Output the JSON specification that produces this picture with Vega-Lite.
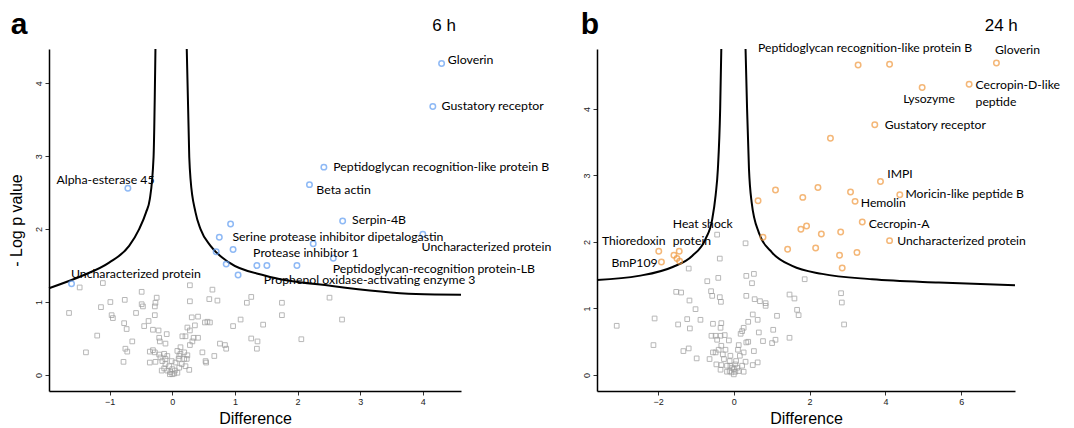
{
"$schema": "https://vega.github.io/schema/vega-lite/v6.json",
"background": "white",
"padding": {"left": 8, "top": 9, "right": 5, "bottom": 2},
"bounds": "flush",
"spacing": 136,
"config": {
  "view": {"stroke": null},
  "axis": {"grid": false, "domainColor": "#000", "domainWidth": 1.5, "tickColor": "#333", "tickSize": 4, "tickWidth": 1, "labelFont": "Liberation Sans", "labelFontSize": 9, "labelColor": "#222", "titleFont": "Liberation Sans", "titleFontSize": 16, "titleFontWeight": "normal", "titleColor": "#000"},
  "axisY": {"labelAngle": -90, "labelAlign": "center", "labelBaseline": "bottom", "labelPadding": 2},
  "text": {"font": "Lato", "fontSize": 12.5, "align": "left", "baseline": "middle", "color": "#000"}
},
"datasets": {
  "hdrA": [
    {"t": "a", "kind": "letter", "d": -2.58, "v": 4.68},
    {"t": "6 h", "kind": "time", "d": 4.15, "v": 4.71}
  ],
  "hdrB": [
    {"t": "b", "kind": "letter", "d": -4.04, "v": 5.13},
    {"t": "24 h", "kind": "time", "d": 6.62, "v": 5.17}
  ],
  "ptsA": [
    {"d": 4.30, "v": 4.27, "sig": "yes"},
    {"d": 4.16, "v": 3.68, "sig": "yes"},
    {"d": 2.42, "v": 2.85, "sig": "yes"},
    {"d": 2.19, "v": 2.61, "sig": "yes"},
    {"d": -0.71, "v": 2.56, "sig": "yes"},
    {"d": 2.72, "v": 2.11, "sig": "yes"},
    {"d": 0.93, "v": 2.07, "sig": "yes"},
    {"d": 0.75, "v": 1.89, "sig": "yes"},
    {"d": 2.25, "v": 1.80, "sig": "yes"},
    {"d": 4.00, "v": 1.93, "sig": "yes"},
    {"d": 0.70, "v": 1.69, "sig": "yes"},
    {"d": 0.97, "v": 1.72, "sig": "yes"},
    {"d": 2.57, "v": 1.60, "sig": "yes"},
    {"d": 0.86, "v": 1.52, "sig": "yes"},
    {"d": 1.35, "v": 1.50, "sig": "yes"},
    {"d": 1.51, "v": 1.50, "sig": "yes"},
    {"d": 1.99, "v": 1.50, "sig": "yes"},
    {"d": 1.05, "v": 1.37, "sig": "yes"},
    {"d": -1.61, "v": 1.25, "sig": "yes"},
    {"d": -1.48, "v": 1.20, "sig": "no"},
    {"d": -1.11, "v": 1.26, "sig": "no"},
    {"d": 0.28, "v": 1.23, "sig": "no"},
    {"d": 0.64, "v": 1.17, "sig": "no"},
    {"d": -0.49, "v": 1.14, "sig": "no"},
    {"d": -0.25, "v": 1.06, "sig": "no"},
    {"d": -0.76, "v": 1.03, "sig": "no"},
    {"d": -0.99, "v": 1.00, "sig": "no"},
    {"d": -0.49, "v": 0.97, "sig": "no"},
    {"d": -0.27, "v": 0.99, "sig": "no"},
    {"d": -0.47, "v": 0.94, "sig": "no"},
    {"d": -0.28, "v": 0.94, "sig": "no"},
    {"d": -1.14, "v": 0.93, "sig": "no"},
    {"d": 0.28, "v": 1.01, "sig": "no"},
    {"d": 0.59, "v": 1.04, "sig": "no"},
    {"d": 0.72, "v": 1.02, "sig": "no"},
    {"d": 1.26, "v": 1.07, "sig": "no"},
    {"d": 1.19, "v": 0.99, "sig": "no"},
    {"d": 1.75, "v": 0.99, "sig": "no"},
    {"d": 2.51, "v": 1.06, "sig": "no"},
    {"d": -1.65, "v": 0.85, "sig": "no"},
    {"d": -0.97, "v": 0.82, "sig": "no"},
    {"d": -0.95, "v": 0.78, "sig": "no"},
    {"d": -0.58, "v": 0.85, "sig": "no"},
    {"d": -0.28, "v": 0.82, "sig": "no"},
    {"d": -0.38, "v": 0.74, "sig": "no"},
    {"d": -0.77, "v": 0.71, "sig": "no"},
    {"d": -0.73, "v": 0.63, "sig": "no"},
    {"d": -0.45, "v": 0.67, "sig": "no"},
    {"d": 0.31, "v": 0.79, "sig": "no"},
    {"d": 0.41, "v": 0.80, "sig": "no"},
    {"d": 0.36, "v": 0.68, "sig": "no"},
    {"d": 0.52, "v": 0.72, "sig": "no"},
    {"d": 0.56, "v": 0.73, "sig": "no"},
    {"d": 0.60, "v": 0.72, "sig": "no"},
    {"d": 1.09, "v": 0.76, "sig": "no"},
    {"d": 0.97, "v": 0.67, "sig": "no"},
    {"d": 1.45, "v": 0.69, "sig": "no"},
    {"d": 1.75, "v": 0.82, "sig": "no"},
    {"d": 2.71, "v": 0.76, "sig": "no"},
    {"d": -1.20, "v": 0.54, "sig": "no"},
    {"d": -0.31, "v": 0.62, "sig": "no"},
    {"d": -0.22, "v": 0.61, "sig": "no"},
    {"d": -0.09, "v": 0.56, "sig": "no"},
    {"d": -0.21, "v": 0.51, "sig": "no"},
    {"d": -0.20, "v": 0.46, "sig": "no"},
    {"d": -0.64, "v": 0.46, "sig": "no"},
    {"d": -0.11, "v": 0.43, "sig": "no"},
    {"d": 0.24, "v": 0.65, "sig": "no"},
    {"d": 0.28, "v": 0.61, "sig": "no"},
    {"d": 0.16, "v": 0.53, "sig": "no"},
    {"d": 0.21, "v": 0.53, "sig": "no"},
    {"d": 0.34, "v": 0.51, "sig": "no"},
    {"d": 0.41, "v": 0.51, "sig": "no"},
    {"d": 0.32, "v": 0.46, "sig": "no"},
    {"d": 0.28, "v": 0.41, "sig": "no"},
    {"d": 1.26, "v": 0.50, "sig": "no"},
    {"d": 1.36, "v": 0.46, "sig": "no"},
    {"d": 1.35, "v": 0.36, "sig": "no"},
    {"d": 0.76, "v": 0.43, "sig": "no"},
    {"d": 0.84, "v": 0.41, "sig": "no"},
    {"d": 0.86, "v": 0.36, "sig": "no"},
    {"d": 0.48, "v": 0.31, "sig": "no"},
    {"d": 0.67, "v": 0.26, "sig": "no"},
    {"d": 0.53, "v": 0.19, "sig": "no"},
    {"d": 0.54, "v": 0.17, "sig": "no"},
    {"d": 2.06, "v": 0.49, "sig": "no"},
    {"d": -1.38, "v": 0.31, "sig": "no"},
    {"d": -0.75, "v": 0.36, "sig": "no"},
    {"d": -0.72, "v": 0.32, "sig": "no"},
    {"d": -0.78, "v": 0.18, "sig": "no"},
    {"d": -0.36, "v": 0.32, "sig": "no"},
    {"d": -0.31, "v": 0.34, "sig": "no"},
    {"d": -0.28, "v": 0.31, "sig": "no"},
    {"d": -0.21, "v": 0.28, "sig": "no"},
    {"d": -0.36, "v": 0.17, "sig": "no"},
    {"d": -0.27, "v": 0.18, "sig": "no"},
    {"d": -0.19, "v": 0.24, "sig": "no"},
    {"d": -0.16, "v": 0.19, "sig": "no"},
    {"d": -0.11, "v": 0.15, "sig": "no"},
    {"d": -0.05, "v": 0.12, "sig": "no"},
    {"d": 0.00, "v": 0.08, "sig": "no"},
    {"d": -0.03, "v": 0.04, "sig": "no"},
    {"d": 0.03, "v": 0.02, "sig": "no"},
    {"d": 0.08, "v": 0.03, "sig": "no"},
    {"d": -0.08, "v": 0.06, "sig": "no"},
    {"d": -0.13, "v": 0.09, "sig": "no"},
    {"d": 0.11, "v": 0.10, "sig": "no"},
    {"d": 0.15, "v": 0.15, "sig": "no"},
    {"d": 0.05, "v": 0.17, "sig": "no"},
    {"d": 0.10, "v": 0.22, "sig": "no"},
    {"d": 0.19, "v": 0.22, "sig": "no"},
    {"d": 0.23, "v": 0.22, "sig": "no"},
    {"d": 0.13, "v": 0.29, "sig": "no"},
    {"d": 0.08, "v": 0.33, "sig": "no"},
    {"d": 0.11, "v": 0.26, "sig": "no"},
    {"d": 0.27, "v": 0.07, "sig": "no"},
    {"d": 0.21, "v": 0.12, "sig": "no"},
    {"d": 0.00, "v": 0.01, "sig": "no"},
    {"d": 0.04, "v": 0.06, "sig": "no"},
    {"d": -0.04, "v": 0.01, "sig": "no"},
    {"d": -0.17, "v": 0.06, "sig": "no"},
    {"d": -0.11, "v": 0.22, "sig": "no"},
    {"d": -0.01, "v": 0.19, "sig": "no"},
    {"d": -0.13, "v": 0.29, "sig": "no"},
    {"d": -0.08, "v": 0.26, "sig": "no"},
    {"d": 0.19, "v": 0.31, "sig": "no"},
    {"d": 0.24, "v": 0.27, "sig": "no"},
    {"d": 0.13, "v": 0.38, "sig": "no"}
  ],
  "ptsB": [
    {"d": 3.28, "v": 4.66, "sig": "yes"},
    {"d": 4.11, "v": 4.67, "sig": "yes"},
    {"d": 6.93, "v": 4.69, "sig": "yes"},
    {"d": 6.21, "v": 4.37, "sig": "yes"},
    {"d": 4.97, "v": 4.32, "sig": "yes"},
    {"d": 3.72, "v": 3.76, "sig": "yes"},
    {"d": 2.55, "v": 3.56, "sig": "yes"},
    {"d": 3.87, "v": 2.91, "sig": "yes"},
    {"d": 4.38, "v": 2.71, "sig": "yes"},
    {"d": 3.08, "v": 2.75, "sig": "yes"},
    {"d": 3.20, "v": 2.61, "sig": "yes"},
    {"d": 2.22, "v": 2.82, "sig": "yes"},
    {"d": 1.10, "v": 2.78, "sig": "yes"},
    {"d": 1.82, "v": 2.67, "sig": "yes"},
    {"d": 0.64, "v": 2.62, "sig": "yes"},
    {"d": 3.39, "v": 2.30, "sig": "yes"},
    {"d": 4.11, "v": 2.02, "sig": "yes"},
    {"d": 1.77, "v": 2.19, "sig": "yes"},
    {"d": 1.92, "v": 2.24, "sig": "yes"},
    {"d": 2.31, "v": 2.12, "sig": "yes"},
    {"d": 2.82, "v": 2.15, "sig": "yes"},
    {"d": 0.77, "v": 2.07, "sig": "yes"},
    {"d": 1.42, "v": 1.89, "sig": "yes"},
    {"d": 2.16, "v": 1.91, "sig": "yes"},
    {"d": 2.79, "v": 1.80, "sig": "yes"},
    {"d": 3.25, "v": 1.84, "sig": "yes"},
    {"d": 2.86, "v": 1.61, "sig": "yes"},
    {"d": -1.98, "v": 1.86, "sig": "yes"},
    {"d": -1.91, "v": 1.70, "sig": "yes"},
    {"d": -1.58, "v": 1.80, "sig": "yes"},
    {"d": -1.44, "v": 1.86, "sig": "yes"},
    {"d": -1.50, "v": 1.75, "sig": "yes"},
    {"d": -1.43, "v": 1.71, "sig": "yes"},
    {"d": -0.44, "v": 2.11, "sig": "no"},
    {"d": 0.31, "v": 1.98, "sig": "no"},
    {"d": -0.37, "v": 1.75, "sig": "no"},
    {"d": -1.19, "v": 1.60, "sig": "no"},
    {"d": -0.41, "v": 1.46, "sig": "no"},
    {"d": 0.33, "v": 1.49, "sig": "no"},
    {"d": 0.53, "v": 1.52, "sig": "no"},
    {"d": 0.48, "v": 1.38, "sig": "no"},
    {"d": -0.70, "v": 1.41, "sig": "no"},
    {"d": 1.87, "v": 1.44, "sig": "no"},
    {"d": -1.52, "v": 1.25, "sig": "no"},
    {"d": -1.39, "v": 1.24, "sig": "no"},
    {"d": -0.60, "v": 1.26, "sig": "no"},
    {"d": -0.57, "v": 1.19, "sig": "no"},
    {"d": -0.37, "v": 1.17, "sig": "no"},
    {"d": -0.34, "v": 1.10, "sig": "no"},
    {"d": -1.17, "v": 1.12, "sig": "no"},
    {"d": 0.33, "v": 1.19, "sig": "no"},
    {"d": 0.55, "v": 1.14, "sig": "no"},
    {"d": 0.69, "v": 1.11, "sig": "no"},
    {"d": 0.84, "v": 1.08, "sig": "no"},
    {"d": 0.84, "v": 1.04, "sig": "no"},
    {"d": 1.47, "v": 1.21, "sig": "no"},
    {"d": 1.60, "v": 1.15, "sig": "no"},
    {"d": 2.83, "v": 1.23, "sig": "no"},
    {"d": 2.85, "v": 1.09, "sig": "no"},
    {"d": -1.01, "v": 0.99, "sig": "no"},
    {"d": 1.67, "v": 0.98, "sig": "no"},
    {"d": 1.71, "v": 0.90, "sig": "no"},
    {"d": 1.14, "v": 0.89, "sig": "no"},
    {"d": 0.50, "v": 0.91, "sig": "no"},
    {"d": -2.09, "v": 0.85, "sig": "no"},
    {"d": -1.23, "v": 0.84, "sig": "no"},
    {"d": -0.88, "v": 0.83, "sig": "no"},
    {"d": -3.09, "v": 0.74, "sig": "no"},
    {"d": -1.47, "v": 0.76, "sig": "no"},
    {"d": -1.16, "v": 0.70, "sig": "no"},
    {"d": -0.55, "v": 0.77, "sig": "no"},
    {"d": -0.33, "v": 0.78, "sig": "no"},
    {"d": -0.35, "v": 0.71, "sig": "no"},
    {"d": 0.38, "v": 0.80, "sig": "no"},
    {"d": 0.63, "v": 0.83, "sig": "no"},
    {"d": 0.26, "v": 0.71, "sig": "no"},
    {"d": 0.22, "v": 0.66, "sig": "no"},
    {"d": 0.18, "v": 0.62, "sig": "no"},
    {"d": 0.66, "v": 0.64, "sig": "no"},
    {"d": 1.04, "v": 0.68, "sig": "no"},
    {"d": 2.91, "v": 0.76, "sig": "no"},
    {"d": 1.47, "v": 0.56, "sig": "no"},
    {"d": 1.10, "v": 0.53, "sig": "no"},
    {"d": 1.01, "v": 0.48, "sig": "no"},
    {"d": 0.77, "v": 0.51, "sig": "no"},
    {"d": 0.38, "v": 0.50, "sig": "no"},
    {"d": 0.33, "v": 0.49, "sig": "no"},
    {"d": -2.12, "v": 0.45, "sig": "no"},
    {"d": -1.19, "v": 0.40, "sig": "no"},
    {"d": -1.33, "v": 0.36, "sig": "no"},
    {"d": -0.98, "v": 0.25, "sig": "no"},
    {"d": -0.64, "v": 0.24, "sig": "no"},
    {"d": -0.55, "v": 0.34, "sig": "no"},
    {"d": -0.59, "v": 0.59, "sig": "no"},
    {"d": -0.48, "v": 0.59, "sig": "no"},
    {"d": -0.35, "v": 0.59, "sig": "no"},
    {"d": -0.24, "v": 0.60, "sig": "no"},
    {"d": -0.13, "v": 0.52, "sig": "no"},
    {"d": -0.44, "v": 0.53, "sig": "no"},
    {"d": -0.33, "v": 0.44, "sig": "no"},
    {"d": -0.22, "v": 0.38, "sig": "no"},
    {"d": -0.29, "v": 0.31, "sig": "no"},
    {"d": -0.46, "v": 0.16, "sig": "no"},
    {"d": -0.35, "v": 0.08, "sig": "no"},
    {"d": -0.33, "v": 0.15, "sig": "no"},
    {"d": -0.18, "v": 0.14, "sig": "no"},
    {"d": -0.11, "v": 0.21, "sig": "no"},
    {"d": -0.09, "v": 0.29, "sig": "no"},
    {"d": 0.13, "v": 0.45, "sig": "no"},
    {"d": 0.11, "v": 0.38, "sig": "no"},
    {"d": 0.26, "v": 0.34, "sig": "no"},
    {"d": 0.16, "v": 0.29, "sig": "no"},
    {"d": 0.31, "v": 0.20, "sig": "no"},
    {"d": 0.22, "v": 0.14, "sig": "no"},
    {"d": 0.53, "v": 0.36, "sig": "no"},
    {"d": 0.63, "v": 0.19, "sig": "no"},
    {"d": 0.50, "v": 0.15, "sig": "no"},
    {"d": 0.26, "v": 0.05, "sig": "no"},
    {"d": -0.09, "v": 0.14, "sig": "no"},
    {"d": -0.04, "v": 0.11, "sig": "no"},
    {"d": 0.00, "v": 0.09, "sig": "no"},
    {"d": 0.04, "v": 0.05, "sig": "no"},
    {"d": -0.06, "v": 0.04, "sig": "no"},
    {"d": 0.00, "v": 0.01, "sig": "no"},
    {"d": 0.09, "v": 0.11, "sig": "no"},
    {"d": 0.06, "v": 0.21, "sig": "no"},
    {"d": -0.11, "v": 0.06, "sig": "no"},
    {"d": -0.18, "v": 0.05, "sig": "no"},
    {"d": 0.13, "v": 0.06, "sig": "no"},
    {"d": 0.04, "v": 0.16, "sig": "no"},
    {"d": -0.26, "v": 0.24, "sig": "no"},
    {"d": -0.40, "v": 0.38, "sig": "no"},
    {"d": -0.48, "v": 0.34, "sig": "no"}
  ],
  "curveA": [
    {"branch": "L", "d": -1.97, "v": 1.19},
    {"branch": "L", "d": -1.44, "v": 1.36},
    {"branch": "L", "d": -1.01, "v": 1.54},
    {"branch": "L", "d": -0.69, "v": 1.77},
    {"branch": "L", "d": -0.53, "v": 2.00},
    {"branch": "L", "d": -0.42, "v": 2.23},
    {"branch": "L", "d": -0.36, "v": 2.41},
    {"branch": "L", "d": -0.30, "v": 2.99},
    {"branch": "L", "d": -0.27, "v": 4.47},
    {"branch": "R", "d": 0.23, "v": 4.47},
    {"branch": "R", "d": 0.27, "v": 2.99},
    {"branch": "R", "d": 0.29, "v": 2.69},
    {"branch": "R", "d": 0.37, "v": 2.23},
    {"branch": "R", "d": 0.45, "v": 2.00},
    {"branch": "R", "d": 0.61, "v": 1.77},
    {"branch": "R", "d": 0.91, "v": 1.54},
    {"branch": "R", "d": 1.49, "v": 1.36},
    {"branch": "R", "d": 2.55, "v": 1.22},
    {"branch": "R", "d": 3.89, "v": 1.11},
    {"branch": "R", "d": 4.61, "v": 1.10}
  ],
  "curveB": [
    {"branch": "L", "d": -3.61, "v": 1.43},
    {"branch": "L", "d": -2.51, "v": 1.49},
    {"branch": "L", "d": -1.63, "v": 1.62},
    {"branch": "L", "d": -1.10, "v": 1.79},
    {"branch": "L", "d": -0.75, "v": 2.04},
    {"branch": "L", "d": -0.57, "v": 2.34},
    {"branch": "L", "d": -0.48, "v": 2.70},
    {"branch": "L", "d": -0.42, "v": 3.10},
    {"branch": "L", "d": -0.36, "v": 4.00},
    {"branch": "L", "d": -0.33, "v": 4.90},
    {"branch": "R", "d": 0.31, "v": 4.90},
    {"branch": "R", "d": 0.35, "v": 4.00},
    {"branch": "R", "d": 0.40, "v": 3.10},
    {"branch": "R", "d": 0.47, "v": 2.60},
    {"branch": "R", "d": 0.66, "v": 2.14},
    {"branch": "R", "d": 1.01, "v": 1.84},
    {"branch": "R", "d": 1.54, "v": 1.64},
    {"branch": "R", "d": 2.33, "v": 1.52},
    {"branch": "R", "d": 3.65, "v": 1.44},
    {"branch": "R", "d": 5.41, "v": 1.39},
    {"branch": "R", "d": 7.42, "v": 1.35}
  ],
  "labA": [
    {"name": "Gloverin", "d": 4.40, "v": 4.32},
    {"name": "Gustatory receptor", "d": 4.30, "v": 3.69},
    {"name": "Peptidoglycan recognition-like protein B", "d": 2.57, "v": 2.85},
    {"name": "Beta actin", "d": 2.30, "v": 2.54},
    {"name": "Alpha-esterase 45", "d": -1.85, "v": 2.68},
    {"name": "Serpin-4B", "d": 2.87, "v": 2.12},
    {"name": "Serine protease inhibitor dipetalogastin", "d": 0.96, "v": 1.89},
    {"name": "Uncharacterized protein", "d": 3.98, "v": 1.75},
    {"name": "Protease inhibitor 1", "d": 1.29, "v": 1.67},
    {"name": "Peptidoglycan-recognition protein-LB", "d": 2.56, "v": 1.45},
    {"name": "Prophenol oxidase-activating enzyme 3", "d": 1.46, "v": 1.30},
    {"name": "Uncharacterized protein", "d": -1.62, "v": 1.38}
  ],
  "labB": [
    {"name": "Peptidoglycan recognition-like protein B", "d": 0.64, "v": 4.92},
    {"name": "Gloverin", "d": 6.89, "v": 4.89},
    {"name": "Cecropin-D-like", "d": 6.38, "v": 4.36},
    {"name": "peptide", "d": 6.38, "v": 4.11},
    {"name": "Lysozyme", "d": 4.47, "v": 4.15},
    {"name": "Gustatory receptor", "d": 3.98, "v": 3.76},
    {"name": "IMPI", "d": 4.05, "v": 3.02},
    {"name": "Moricin-like peptide B", "d": 4.53, "v": 2.72},
    {"name": "Hemolin", "d": 3.35, "v": 2.59},
    {"name": "Cecropin-A", "d": 3.56, "v": 2.27},
    {"name": "Uncharacterized protein", "d": 4.31, "v": 2.01},
    {"name": "Heat shock", "d": -1.61, "v": 2.27},
    {"name": "protein", "d": -1.61, "v": 2.01},
    {"name": "Thioredoxin", "d": -3.48, "v": 2.01},
    {"name": "BmP109", "d": -3.23, "v": 1.68}
  ]
},
"hconcat": [
  {
    "width": 412, "height": 342,
    "encoding": {
      "x": {"field": "d", "type": "quantitative", "scale": {"domain": [-1.97, 4.61], "nice": false, "zero": false}, "axis": {"title": "Difference", "values": [-1, 0, 1, 2, 3, 4], "titlePadding": 4}},
      "y": {"field": "v", "type": "quantitative", "scale": {"domain": [-0.22, 4.47], "nice": false, "zero": false}, "axis": {"title": "- Log p value", "values": [0, 1, 2, 3, 4], "titlePadding": 10}}
    },
    "layer": [
      {"data": {"name": "curveA"}, "mark": {"type": "line", "color": "#000", "strokeWidth": 2, "interpolate": "monotone"}, "encoding": {"detail": {"field": "branch"}}},
      {"data": {"name": "ptsA"}, "transform": [{"filter": "datum.sig == 'no'"}], "mark": {"type": "point", "shape": "square", "size": 22, "stroke": "#9a9a9a", "strokeWidth": 1, "filled": false}},
      {"data": {"name": "ptsA"}, "transform": [{"filter": "datum.sig == 'yes'"}], "mark": {"type": "point", "shape": "circle", "size": 30, "stroke": "#5f9cf2", "strokeWidth": 1.5, "filled": false}},
      {"data": {"name": "labA"}, "mark": {"type": "text", "fontSize": 12.3}, "encoding": {"text": {"field": "name"}}},
      {"data": {"name": "hdrA"}, "transform": [{"filter": "datum.kind == 'letter'"}], "mark": {"type": "text", "font": "Liberation Sans", "fontSize": 30, "fontWeight": "bold", "baseline": "alphabetic"}, "encoding": {"text": {"field": "t"}}},
      {"data": {"name": "hdrA"}, "transform": [{"filter": "datum.kind == 'time'"}], "mark": {"type": "text", "font": "Liberation Sans", "fontSize": 17, "baseline": "alphabetic"}, "encoding": {"text": {"field": "t"}}}
    ]
  },
  {
    "width": 418, "height": 342,
    "encoding": {
      "x": {"field": "d", "type": "quantitative", "scale": {"domain": [-3.61, 7.42], "nice": false, "zero": false}, "axis": {"title": "Difference", "values": [-2, 0, 2, 4, 6], "titlePadding": 4}},
      "y": {"field": "v", "type": "quantitative", "scale": {"domain": [-0.24, 4.9], "nice": false, "zero": false}, "axis": {"title": null, "values": [0, 1, 2, 3, 4]}}
    },
    "layer": [
      {"data": {"name": "curveB"}, "mark": {"type": "line", "color": "#000", "strokeWidth": 2, "interpolate": "monotone"}, "encoding": {"detail": {"field": "branch"}}},
      {"data": {"name": "ptsB"}, "transform": [{"filter": "datum.sig == 'no'"}], "mark": {"type": "point", "shape": "square", "size": 22, "stroke": "#9a9a9a", "strokeWidth": 1, "filled": false}},
      {"data": {"name": "ptsB"}, "transform": [{"filter": "datum.sig == 'yes'"}], "mark": {"type": "point", "shape": "circle", "size": 30, "stroke": "#f0993f", "strokeWidth": 1.5, "filled": false}},
      {"data": {"name": "labB"}, "mark": {"type": "text", "fontSize": 12.2}, "encoding": {"text": {"field": "name"}}},
      {"data": {"name": "hdrB"}, "transform": [{"filter": "datum.kind == 'letter'"}], "mark": {"type": "text", "font": "Liberation Sans", "fontSize": 30, "fontWeight": "bold", "baseline": "alphabetic"}, "encoding": {"text": {"field": "t"}}},
      {"data": {"name": "hdrB"}, "transform": [{"filter": "datum.kind == 'time'"}], "mark": {"type": "text", "font": "Liberation Sans", "fontSize": 17, "baseline": "alphabetic"}, "encoding": {"text": {"field": "t"}}}
    ]
  }
]
}
